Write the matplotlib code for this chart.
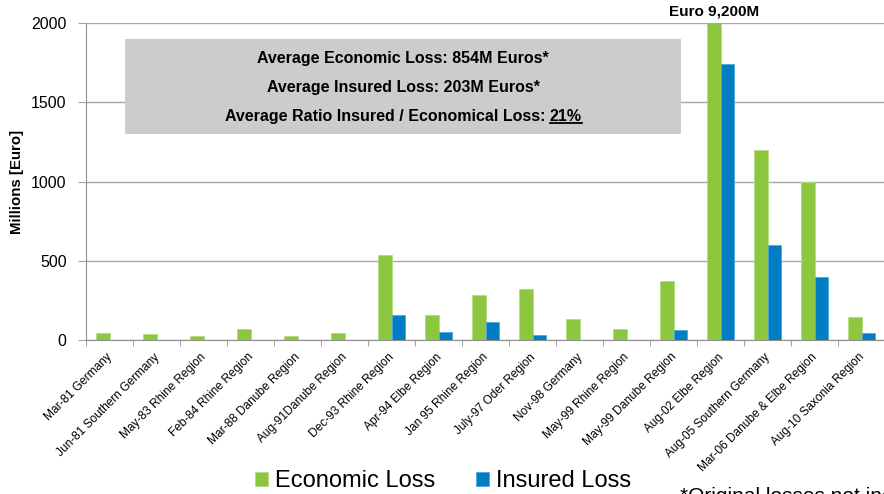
import numpy as np
import matplotlib
matplotlib.use("Agg")
import matplotlib.pyplot as plt
from matplotlib.patches import Rectangle
from matplotlib.lines import Line2D

plt.rcParams['font.family'] = ['Liberation Sans', 'DejaVu Sans']

# flood events, losses in millions of euro
events = ["Mar-81 Germany", "Jun-81 Southern Germany", "May-83 Rhine Region",
          "Feb-84 Rhine Region", "Mar-88 Danube Region", "Aug-91Danube Region",
          "Dec-93 Rhine Region", "Apr-94 Elbe Region", "Jan 95 Rhine Region",
          "July-97 Oder Region", "Nov-98 Germany", "May-99 Rhine Region",
          "May-99 Danube Region", "Aug-02 Elbe Region", "Aug-05 Southern Germany",
          "Mar-06 Danube & Elbe Region", "Aug-10 Saxonia Region"]
economic = [45, 40, 25, 70, 25, 47, 537, 158, 285, 323, 133, 70, 373, 9200, 1200, 1000, 147]
insured = [0, 0, 0, 0, 0, 0, 158, 51, 114, 30, 0, 0, 61, 1740, 600, 400, 47]
box_lines = ["Average Economic Loss: 854M Euros*",
             "Average Insured Loss: 203M Euros*"]
ratio_prefix = "Average Ratio Insured / Economical Loss: "
ratio_value = "21%"
peak_label = "Euro 9,200M"
footnote = "*Original losses not indexed"

GREEN = "#8dc63f"
BLUE = "#007dc3"
GRID = "#a6a6a6"
BOX_FS = 11.5

fig = plt.figure(figsize=(8.84, 4.94), dpi=100)
ax = fig.add_axes([86/884, 154/494, 799/884, 317/494])

x = np.arange(len(events))
w = 0.29
ax.bar(x - w/2, economic, w, color=GREEN, edgecolor="#b4dc80", linewidth=0.6, label="Economic Loss", zorder=3)
ax.bar(x + w/2, insured, w, color=BLUE, edgecolor="#4fa8dc", linewidth=0.6, label="Insured Loss", zorder=3)

ax.set_xlim(-0.5, len(events) - 0.5)
ax.set_ylim(0, 2000)
ax.set_yticks([0, 500, 1000, 1500, 2000])
ax.yaxis.grid(True, color=GRID, linewidth=1, zorder=0)
ax.set_axisbelow(True)
for s in ["top", "right"]:
    ax.spines[s].set_visible(False)
ax.spines["left"].set_color("#909090")
ax.spines["bottom"].set_color("#909090")
ax.tick_params(axis="y", length=6, color=GRID, labelsize=11.5, pad=8)

# category boundaries carry the x ticks, labels sit at centres
ax.set_xticks(np.arange(len(events) + 1) - 0.5)
ax.set_xticklabels([])
ax.tick_params(axis="x", length=4, color=GRID)
for i, name in enumerate(events):
    ax.text(i - 0.07, -70, name, rotation=45, ha="right", va="top",
            rotation_mode="anchor", fontsize=8.6)

ax.set_ylabel("Millions [Euro]", fontsize=10.8, fontweight="bold")
ax.yaxis.set_label_coords(-62/799, 0.5)

# peak value note above the clipped bar
ax.text(13 - w/2, 2030, peak_label, ha="center", va="bottom",
        fontsize=11, fontweight="bold", clip_on=False)

# summary box
ax.add_patch(Rectangle((0.33, 1300), 11.83, 600, facecolor="#cccccc",
                       edgecolor="none", zorder=4))
cx = 0.33 + 11.83/2
for txt, yy in zip(box_lines, [1773, 1596]):
    ax.text(cx, yy, txt, ha="center", va="center", fontsize=BOX_FS,
            fontweight="bold", zorder=5)

fig.canvas.draw()
r = fig.canvas.get_renderer()
full = ax.text(cx, 1413, ratio_prefix + ratio_value, ha="center", va="center",
               fontsize=BOX_FS, fontweight="bold", zorder=5)
bb = full.get_window_extent(r)
full.remove()
pre = ax.text(0, 0, ratio_prefix, fontsize=BOX_FS, fontweight="bold")
pw = pre.get_window_extent(r).width
pre.remove()
inv = ax.transData.inverted()
x0 = inv.transform((bb.x0, 0))[0]
x1 = inv.transform((bb.x0 + pw, 0))[0]
ax.text(x0, 1413, ratio_prefix, ha="left", va="center", fontsize=BOX_FS,
        fontweight="bold", zorder=5)
val = ax.text(x1, 1413, ratio_value, ha="left", va="center", fontsize=BOX_FS,
              fontweight="bold", zorder=5)
vb = val.get_window_extent(r)
uy = vb.y0 + 1
fig.add_artist(Line2D([vb.x0, vb.x1], [uy, uy], transform=None,
                      color="black", linewidth=1.3))

fig.legend(loc="center", bbox_to_anchor=(443/884, 1 - 481/494), ncol=2,
           frameon=False, fontsize=17, handlelength=0.55, handleheight=0.55,
           handletextpad=0.3, columnspacing=1.7, borderaxespad=0, borderpad=0)

fig.text(680/884, 1 - 487/494, footnote, ha="left", va="top", fontsize=15)

fig.savefig("out.png", dpi=100)
